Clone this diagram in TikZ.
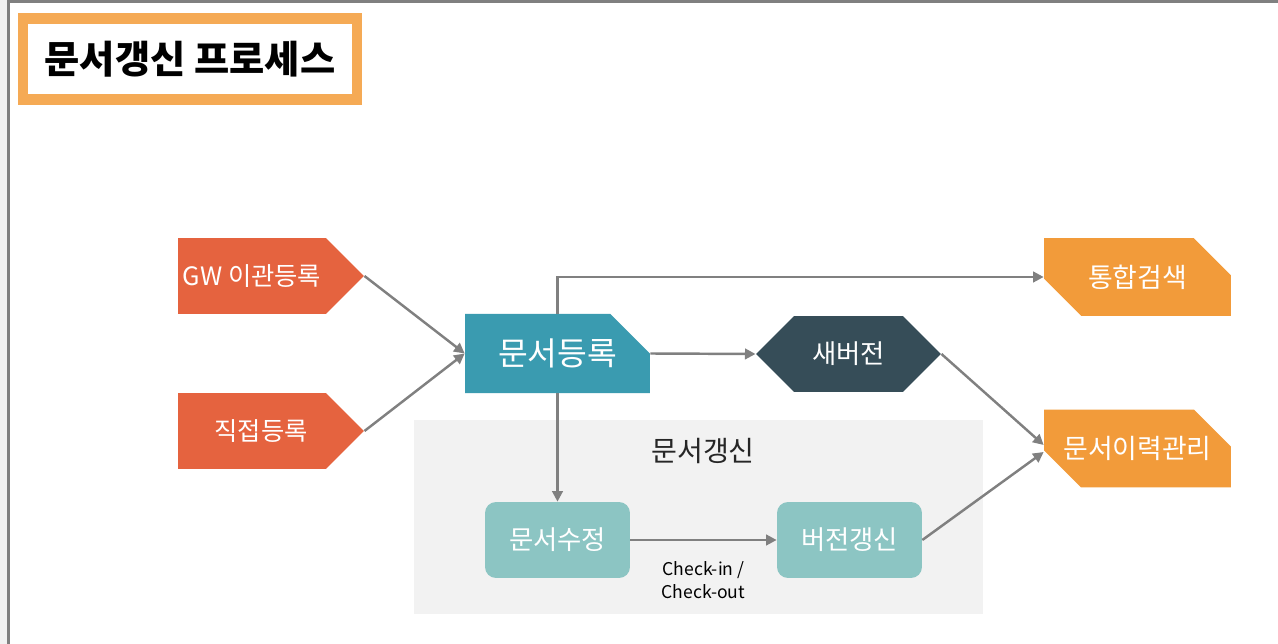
\documentclass[tikz,border=0pt]{standalone}
\usepackage{fontspec}
\newfontfamily\kr{Noto Sans CJK KR}
\usetikzlibrary{arrows.meta, positioning, shapes.symbols, shapes.misc}
\definecolor{regred}{RGB}{229, 99, 63}
\definecolor{regteal}{RGB}{58, 155, 176}
\definecolor{verslate}{RGB}{54, 77, 88}
\definecolor{outorange}{RGB}{242, 155, 58}
\definecolor{editteal}{RGB}{140, 197, 195}
\definecolor{titleorange}{RGB}{245, 170, 85}
\definecolor{zonegray}{RGB}{242, 242, 242}
\definecolor{flowgray}{RGB}{128, 128, 128}

\begin{document}
\begin{tikzpicture}[
  x=0.02cm, y=-0.02cm,
  titlebox/.style={rectangle, draw=titleorange, line width=0.21cm,
              minimum width=6.69cm, minimum height=1.62cm,
              font=\kr\bfseries\fontsize{21.8}{24}\selectfont},
  source/.style={signal, signal to=east, fill=regred, text=white,
              minimum width=3.72cm, minimum height=1.52cm, inner sep=0pt,
              font=\kr\fontsize{14.4}{17}\selectfont},
  regbox/.style={chamfered rectangle, chamfered rectangle corners=north east,
              chamfered rectangle xsep=0.54cm, chamfered rectangle ysep=0.5cm,
              fill=regteal, text=white, inner sep=0pt,
              minimum width=3.7cm, minimum height=1.54cm,
              font=\kr\fontsize{18.4}{21}\selectfont},
  verbox/.style={signal, signal to=west and east, fill=verslate, text=white,
              minimum width=3.7cm, minimum height=1.52cm, inner sep=0pt,
              font=\kr\fontsize{15}{17}\selectfont},
  outbox/.style={chamfered rectangle, chamfered rectangle corners={north east, south west},
              chamfered rectangle xsep=0.48cm, chamfered rectangle ysep=0.5cm,
              fill=outorange, text=white, inner sep=0pt,
              minimum width=3.74cm, minimum height=1.56cm,
              font=\kr\fontsize{15.3}{17}\selectfont},
  editbox/.style={rectangle, rounded corners=0.22cm, fill=editteal, text=white,
              minimum width=2.9cm, minimum height=1.52cm,
              font=\kr\fontsize{15}{17}\selectfont},
  arrow/.style={-{Triangle[length=6pt, width=6pt]}, line width=1.4pt, color=flowgray}
]
  \useasboundingbox (0,0) rectangle (1278,644);
  % page frame
  \fill[zonegray] (0,0) rectangle (8,644);
  \draw[flowgray, line width=1.2pt] (8.5,644) -- (8.5,1.5) -- (1278,1.5);

  \node[titlebox] (title) at (190,59) {문서갱신 프로세스};

  % renewal zone
  \node[rectangle, fill=zonegray, minimum width=11.38cm, minimum height=3.88cm] (zone) at (698.5,517) {};
  \node[font=\kr\fontsize{16}{18}\selectfont, text=black!85] (zonelabel) at (703,451) {문서갱신};

  \node[source] (gw) at (252,276) {GW 이관등록};
  \node[source, execute at begin node=\hspace*{0.36cm}] (direct) at (252,431) {직접등록};
  \node[regbox] (reg) at (557.5,353.5) {문서등록};
  \node[verbox] (newver) at (848.5,354) {새버전};
  \node[outbox] (search) at (1137.5,277) {통합검색};
  \node[outbox] (hist) at (1137.5,448.5) {문서이력관리};
  \node[editbox] (edit) at (557.5,540) {문서수정};
  \node[editbox] (update) at (849.5,540) {버전갱신};

  \draw[arrow] (gw.east) -- (reg.west);
  \draw[arrow] (direct.east) -- (reg.west);
  \draw[arrow] (reg.north) |- (search.west);
  \draw[arrow] (reg.east) -- (newver.west);
  \draw[arrow] (reg.south) -- (edit.north);
  \draw[arrow] (edit.east) -- node[below=0.28cm, align=center, text=black,
      font=\kr\fontsize{10}{13.5}\selectfont] (cilabel) {Check-in /\\Check-out} (update.west);
  \draw[arrow] (newver.east) -- ([yshift=0.07cm]hist.west);
  \draw[arrow] (update.east) -- ([yshift=-0.07cm]hist.west);
\end{tikzpicture}
\end{document}
